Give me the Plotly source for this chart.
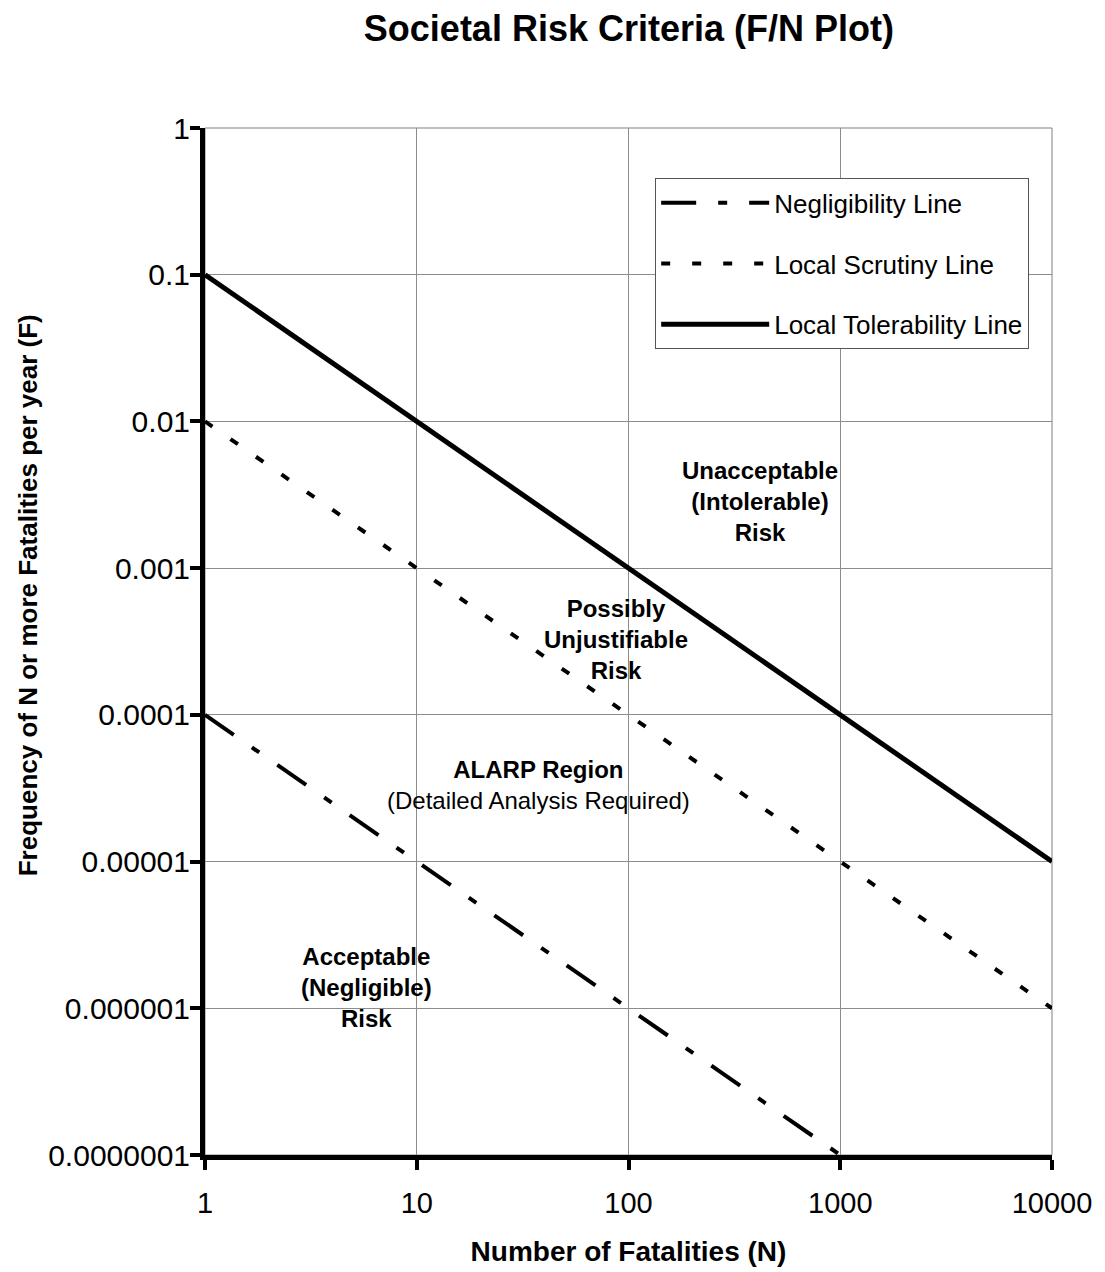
import plotly.graph_objects as go

# ---- data ----
negl_N = [1, 1000]
negl_F = [1e-4, 1e-7]
scrut_N = [1, 10000]
scrut_F = [1e-2, 1e-6]
tol_N = [1, 10000]
tol_F = [1e-1, 1e-5]

x_ticks = [1, 10, 100, 1000, 10000]
x_ticktext = ["1", "10", "100", "1000", "10000"]
y_ticks = [1, 0.1, 0.01, 0.001, 0.0001, 0.00001, 0.000001, 0.0000001]
y_ticktext = ["1", "0.1", "0.01", "0.001", "0.0001", "0.00001", "0.000001", "0.0000001"]

FONT = "Liberation Sans, Arial, sans-serif"

fig = go.Figure()
fig.add_trace(go.Scatter(x=negl_N, y=negl_F, mode="lines", name="Negligibility Line",
                         legendgroup="a",
                         line=dict(color="black", width=4, dash="35px,22px,9px,22px")))
fig.add_trace(go.Scatter(x=scrut_N, y=scrut_F, mode="lines", name="Local Scrutiny Line",
                         legendgroup="b",
                         line=dict(color="black", width=4, dash="9px,22px")))
fig.add_trace(go.Scatter(x=tol_N, y=tol_F, mode="lines", name="Local Tolerability Line",
                         legendgroup="c",
                         line=dict(color="black", width=5)))

ann_font = dict(family=FONT, size=24, color="black")
fig.add_annotation(x=2.62, y=-2.543, xref="x", yref="y", showarrow=False,
                   text="<b>Unacceptable<br>(Intolerable)<br>Risk</b>", font=ann_font)
fig.add_annotation(x=1.939, y=-3.483, xref="x", yref="y", showarrow=False,
                   text="<b>Possibly<br>Unjustifiable<br>Risk</b>", font=ann_font)
fig.add_annotation(x=1.576, y=-4.479, xref="x", yref="y", showarrow=False,
                   text="<b>ALARP Region</b><br>(Detailed Analysis Required)", font=ann_font)
fig.add_annotation(x=0.762, y=-5.855, xref="x", yref="y", showarrow=False,
                   text="<b>Acceptable<br>(Negligible)<br>Risk</b>", font=ann_font)

# y-axis title (placed as annotation to match vertical offset)
fig.add_annotation(x=-0.209, y=0.545, xref="paper", yref="paper", showarrow=False,
                   textangle=-90, xanchor="center", yanchor="middle",
                   text="<b>Frequency of N or more Fatalities per year (F)</b>",
                   font=dict(family=FONT, size=26, color="black"))

# thin frame (top/right border)
fig.add_shape(type="rect", xref="paper", yref="paper", x0=0, y0=0, x1=1, y1=1,
              line=dict(color="#808080", width=1), layer="below")

# the page body adds an 8px margin, so the figure is 8px smaller than the window
fig.update_layout(
    width=1097, height=1264,
    margin=dict(l=197, r=53, t=120, b=117),
    paper_bgcolor="white", plot_bgcolor="white",
    font=dict(family=FONT, color="black"),
    title=dict(text="<b>Societal Risk Criteria (F/N Plot)</b>", x=0.566, xref="container",
               xanchor="center", y=0.994, yanchor="top", automargin=False,
               font=dict(family=FONT, size=36, color="black")),
    showlegend=True,
    legend=dict(x=0.5315, y=0.951, xanchor="left", yanchor="top",
                bgcolor="white", bordercolor="#555555", borderwidth=1,
                font=dict(family=FONT, size=26, color="black"),
                tracegroupgap=24, traceorder="grouped", itemwidth=108),
)

fig.update_xaxes(type="log", range=[0, 4], tickvals=x_ticks, ticktext=x_ticktext,
                 automargin=False,
                 showgrid=True, gridcolor="#8c8c8c", gridwidth=1,
                 showline=True, linecolor="black", linewidth=5,
                 ticks="outside", ticklen=10, tickwidth=4, tickcolor="black",
                 tickfont=dict(family=FONT, size=29, color="black"),
                 ticklabelstandoff=8,
                 zeroline=False,
                 title=dict(text="<b>Number of Fatalities (N)</b>", standoff=25,
                            font=dict(family=FONT, size=28, color="black")))
fig.update_yaxes(type="log", range=[-7, 0], tickvals=y_ticks, ticktext=y_ticktext,
                 automargin=False,
                 showgrid=True, gridcolor="#8c8c8c", gridwidth=1,
                 showline=True, linecolor="black", linewidth=5,
                 ticks="outside", ticklen=10, tickwidth=4, tickcolor="black",
                 tickfont=dict(family=FONT, size=30, color="black"),
                 ticklabelstandoff=-6,
                 zeroline=False)

fig.write_html("out.html")
